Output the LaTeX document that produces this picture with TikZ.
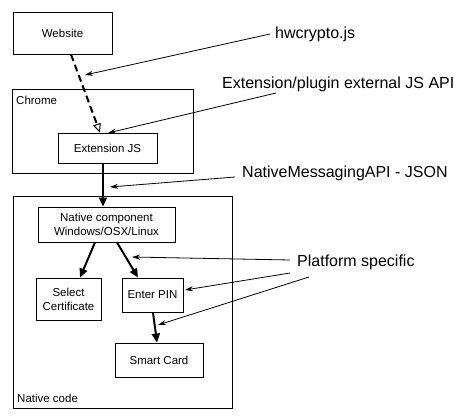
\documentclass[tikz,border=0pt]{standalone}
\usepackage{fontspec}
\setmainfont{Liberation Sans}
\usetikzlibrary{arrows.meta}
\begin{document}
\begin{tikzpicture}[x=1pt,y=-1pt,
  box/.style={draw, line width=0.9pt, inner sep=0pt, align=center, font=\fontsize{11.5}{14}\selectfont},
  container/.style={draw, line width=0.9pt, inner sep=0pt},
  lbl/.style={inner sep=0pt, anchor=west, font=\fontsize{11.5}{14}\selectfont},
  note/.style={inner sep=0pt, anchor=west, font=\fontsize{16}{19}\selectfont},
  flow/.style={line width=2pt, -{Triangle[length=9pt,width=8pt]}},
  jsflow/.style={line width=2pt, dash pattern=on 7pt off 4pt, -{Triangle[open,length=9pt,width=8pt,line width=1pt]}},
  callout/.style={line width=0.8pt, -{Stealth[length=8pt,width=5pt]}}]
\useasboundingbox (0,0) rectangle (469,420);
% containers
\node[container, minimum width=181pt, minimum height=84pt] (chrome) at (102.5,131) {};
\node[lbl] (chromelbl) at (16,100) {Chrome};
\node[container, minimum width=219pt, minimum height=212pt] (native) at (122.5,302) {};
\node[lbl] (nativelbl) at (17,398) {Native code};
% boxes
\node[box, minimum width=99pt, minimum height=42pt] (web) at (62.5,33) {Website};
\node[box, minimum width=99pt, minimum height=30pt] (ext) at (107.5,148) {Extension JS};
\node[box, minimum width=137pt, minimum height=35pt] (comp) at (106.5,224.5) {Native component\\Windows/OSX/Linux};
\node[box, minimum width=65pt, minimum height=42pt] (cert) at (68.5,299) {Select\\Certificate};
\node[box, minimum width=61pt, minimum height=34pt] (pin) at (152.5,295) {Enter PIN};
\node[box, minimum width=88pt, minimum height=34pt] (card) at (159,360) {Smart Card};
% flows
\draw[jsflow] ([xshift=8.5pt]web.south) -- ([xshift=-7.5pt]ext.north);
\draw[flow] ([xshift=-4.5pt]ext.south) -- ([xshift=-3.5pt]comp.north);
\draw[flow] ([xshift=-11.5pt]comp.south) -- ([xshift=11.5pt]cert.north);
\draw[flow] ([xshift=10.5pt]comp.south) -- ([xshift=-14.5pt]pin.north);
\draw[flow] ([xshift=0.5pt]pin.south) -- ([xshift=-2pt]card.north);
% notes
\node[note] (n1) at (275,34) {hwcrypto.js};
\node[note] (n2) at (222,84) {Extension/plugin external JS API};
\node[note] (n3) at (242,173) {NativeMessagingAPI - JSON};
\node[note] (n4) at (297,262) {Platform specific};
\coordinate (t1) at (85,75);
\coordinate (t2) at (108,133);
\coordinate (t3) at (110,187);
\coordinate (t4) at (132,257);
\coordinate (t5) at (185,290);
\coordinate (t6) at (158,325);
\coordinate (s1) at (270,34);
\coordinate (s2) at (276,93);
\coordinate (s3) at (235,177);
\coordinate (s4) at (290,260);
\coordinate (s5) at (290,273);
\coordinate (s6) at (309,277);
\draw[callout] (s1) -- (t1);
\draw[callout] (s2) -- (t2);
\draw[callout] (s3) -- (t3);
\draw[callout] (s4) -- (t4);
\draw[callout] (s5) -- (t5);
\draw[callout] (s6) -- (t6);
\end{tikzpicture}
\end{document}
